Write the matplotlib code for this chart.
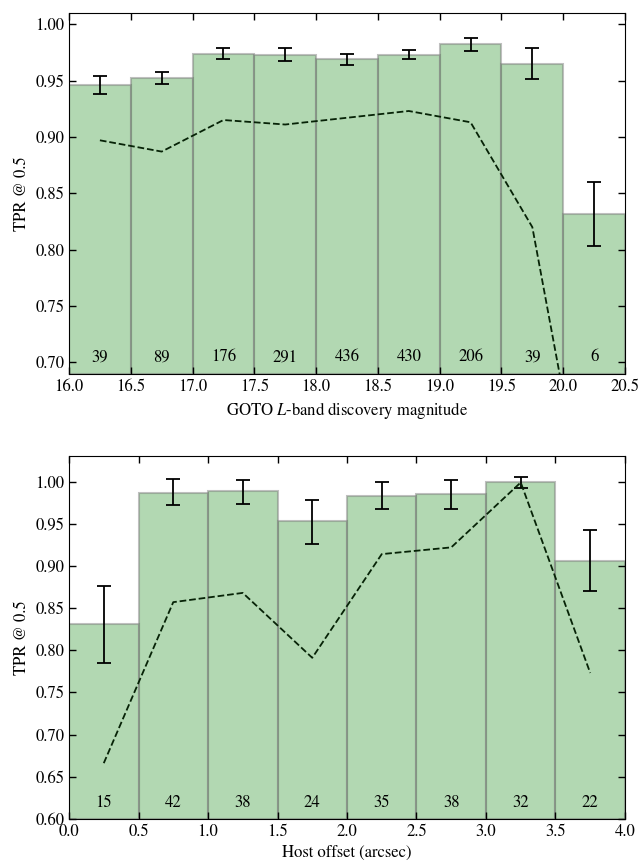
import numpy as np
import matplotlib
matplotlib.use("Agg")
import matplotlib.pyplot as plt

plt.rcParams["font.family"] = "STIXGeneral"
plt.rcParams["mathtext.fontset"] = "stix"
plt.rcParams["font.size"] = 12

# top panel: discovery magnitude bins
mag_edges = [16.0, 16.5, 17.0, 17.5, 18.0, 18.5, 19.0, 19.5, 20.0, 20.5]
mag_tpr = [0.946, 0.952, 0.974, 0.973, 0.969, 0.973, 0.982, 0.965, 0.832]
mag_err_lo = [0.938, 0.947, 0.969, 0.967, 0.964, 0.969, 0.976, 0.951, 0.803]
mag_err_hi = [0.954, 0.958, 0.979, 0.979, 0.974, 0.977, 0.988, 0.979, 0.860]
mag_line = [0.897, 0.887, 0.915, 0.911, 0.917, 0.923, 0.913, 0.820, 0.525]
mag_counts = [39, 89, 176, 291, 436, 430, 206, 39, 6]

# bottom panel: host offset bins
off_edges = [0.0, 0.5, 1.0, 1.5, 2.0, 2.5, 3.0, 3.5, 4.0]
off_tpr = [0.831, 0.987, 0.989, 0.953, 0.983, 0.985, 0.999, 0.906]
off_err_lo = [0.785, 0.972, 0.974, 0.926, 0.967, 0.967, 0.993, 0.870]
off_err_hi = [0.876, 1.003, 1.002, 0.978, 1.000, 1.002, 1.005, 0.943]
off_line = [0.666, 0.857, 0.868, 0.791, 0.914, 0.922, 0.999, 0.773]
off_counts = [15, 42, 38, 24, 35, 38, 32, 22]


def panel(ax, edges, tpr, lo, hi, line, counts, ylim, yticks, xlabel):
    edges = np.array(edges)
    centres = 0.5 * (edges[:-1] + edges[1:])
    width = edges[1] - edges[0]
    tpr = np.array(tpr)
    ax.bar(centres, tpr - ylim[0], width=width, bottom=ylim[0],
           facecolor=(0, 0.5, 0, 0.3), edgecolor=(0.5, 0.5, 0.5, 0.5),
           linewidth=1.5)
    yerr = [tpr - np.array(lo), np.array(hi) - tpr]
    ax.errorbar(centres, tpr, yerr=yerr, fmt="none", ecolor="k",
                elinewidth=1.3, capsize=5, capthick=1.3)
    ax.plot(centres, line, "--", color="#062206", lw=1.3)
    for c, n in zip(centres, counts):
        ax.text(c, 0.045, str(n), ha="center", va="center",
                transform=ax.get_xaxis_transform())
    ax.set_xlim(edges[0], edges[-1])
    ax.set_ylim(*ylim)
    ax.set_xticks(edges)
    ax.set_xticklabels(["%.1f" % e for e in edges])
    ax.set_yticks(yticks)
    ax.set_yticklabels(["%.2f" % t for t in yticks])
    ax.tick_params(direction="in", top=True, right=True, length=5, width=1)
    ax.set_ylabel("TPR @ 0.5")
    ax.set_xlabel(xlabel)


fig = plt.figure(figsize=(6.42, 8.61), dpi=100)
ax1 = fig.add_axes([0.1075, 0.566, 0.866, 0.419])
ax2 = fig.add_axes([0.1075, 0.049, 0.866, 0.421])

panel(ax1, mag_edges, mag_tpr, mag_err_lo, mag_err_hi, mag_line, mag_counts,
      (0.69, 1.01), np.arange(0.70, 1.001, 0.05),
      "GOTO $L$-band discovery magnitude")
panel(ax2, off_edges, off_tpr, off_err_lo, off_err_hi, off_line, off_counts,
      (0.60, 1.03), np.arange(0.60, 1.001, 0.05),
      "Host offset (arcsec)")

fig.savefig("out.png", dpi=100)
